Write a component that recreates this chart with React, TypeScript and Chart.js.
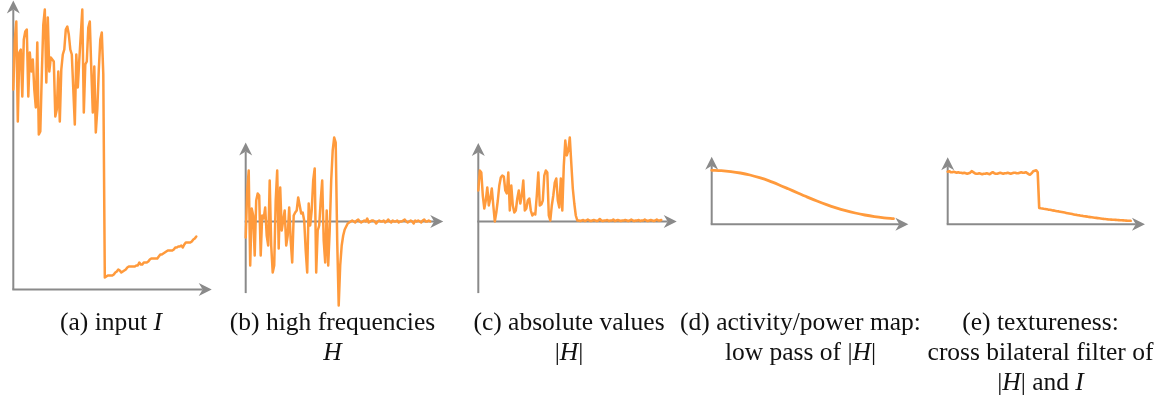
import React, { useEffect, useRef } from 'react';
import { Chart, registerables } from 'chart.js';

Chart.register(...registerables);

// (a) input I: textured region, then a smooth slowly rising ramp
const inputTextured = [
  200, 250, 268, 168, 237, 240, 193, 250, 258, 260,
  193, 237, 218, 230, 200, 182, 247, 155, 158, 215,
  265, 280, 207, 272, 218, 232, 230, 228, 173, 180,
  218, 168, 220, 235, 240, 260, 263, 255, 240, 235,
  200, 165, 235, 202, 230, 255, 280, 177, 225, 228,
  262, 268, 220, 177, 223, 157, 180, 220, 250, 257,
  215,
];
const inputSmooth = [
  12, 13, 14, 14, 14, 14, 15, 17, 18, 20,
  19, 17, 18, 19, 20, 22, 23, 23, 23, 23,
  23, 24, 24, 27, 25, 25, 27, 27, 27, 28,
  30, 31, 31, 31, 31, 31, 33, 35, 35, 36,
  37, 38, 39, 39, 39, 39, 40, 42, 42, 43,
  43, 44, 42, 45, 47, 47, 47, 47, 48, 50,
  51, 53,
];

// (b) high frequencies H
const highTextured = [
  -16, 31, 51, -44, 13, 6, -34, 21, 28, 26,
  -34, 6, 3, 14, -14, -24, 41, -24, -51, -44,
  21, 51, -27, 34, -9, 1, 11, -24, -14, 14,
  -19, -41, 6, 9, 11, 24, 16, 8, 9, 1,
  -29, -51, 18, -4, 11, 41, 53, -51, -9, -4,
  21, 41, -19, -41, 11, -44, -9, 41, 71, 84,
  79, -19, -84, -44, -24, -14, -8, -5, -2, -1,
  0,
];
const highSmooth = [
  1, 0, -1, 1, 2, 0, -1, 0, 1, 0,
  3, -1, 0, 1, 1, 0, -2, 0, 1, 0,
  0, 1, -1, 0, 2, 0, -1, 1, 0, 0,
  1, -1, 0, 0, 1, 2, 0, -1, 0, 1,
  0, -2, 1, 0, 1, 0, -1, 1, 2, 0,
  0, 1, 0,
];

// (c) absolute values |H|
const absTextured = [
  31, 51, 49, 26, 13, 21, 34, 16, 23, 33,
  16, 0, 9, 21, 36, 44, 46, 45, 31, 28,
  49, 11, 36, 16, 9, 11, 23, 31, 18, 26,
  41, 11, 13, 21, 23, 11, 6, 8, 7, 26,
  49, 16, 17, 21, 46, 51, 49, 6, 1, 16,
  26, 39, 43, 21, 14, 43, 11, 56, 81, 66,
  71, 84, 58, 33, 18, 6, 1,
];
const absSmooth = [
  1, 0.5, 1, 1.5, 0.5, 1, 2, 1, 0.5, 1,
  1.5, 1, 0.5, 1, 2.5, 1, 0.5, 1, 1, 1.5,
  0.5, 1, 1, 2, 0.5, 1, 1.5, 1, 0.5, 1,
  1, 1.5, 1, 0.5, 1, 2, 1, 0.5, 1, 1,
  1.5, 0.5, 1, 1, 2, 1, 0.5, 1, 1.5, 1,
  0.5, 1, 2, 1, 1, 1.5,
];

// (d) activity / power map: low pass of |H|
const activityMap = [
  54, 53.6, 52.7, 51.3, 49.3, 46.6, 43.4, 39.6, 35.5, 31.3,
  27.2, 23.3, 19.7, 16.5, 13.7, 11.3, 9.3, 7.7, 6.5, 5.6,
];

// (e) textureness: cross bilateral filter of |H| and I
const textureTextured = [
  52.5, 53, 52, 52, 52.5, 52, 51.5, 52, 51.5, 51.5,
  51, 51.5, 51, 50.5, 51, 51.5, 53, 52, 51, 50.5,
  50.5, 51, 50.5, 50, 50.5, 50.5, 51, 50.5, 50, 51,
  52, 51, 50.5, 50.5, 51, 51.5, 51, 50.5, 51, 51,
  51.5, 51, 50.5, 51, 51.5, 51.5, 51, 51, 51.5, 52,
  51.5, 51.5, 52, 51, 50, 49.5, 51, 53, 53.5, 54,
  52,
];
const textureSmooth = [
  16.2, 15.9, 15.7, 15.4, 15.2, 14.9, 14.6, 14.4, 14.1, 13.8,
  13.6, 13.3, 13.0, 12.8, 12.5, 12.2, 11.9, 11.6, 11.3, 11.0,
  10.7, 10.4, 10.1, 9.8, 9.5, 9.3, 9.0, 8.8, 8.5, 8.3,
  8.0, 7.8, 7.6, 7.3, 7.1, 6.9, 6.7, 6.5, 6.3, 6.1,
  5.9, 5.7, 5.5, 5.3, 5.2, 5.0, 4.8, 4.7, 4.6, 4.5,
  4.4, 4.3, 4.2, 4.1, 4.0, 3.9, 3.8, 3.7, 3.6, 3.5,
  3.5, 3.4,
];

const inputI = [...inputTextured, ...inputSmooth];
const highH = [...highTextured, ...highSmooth];
const absH = [...absTextured, ...absSmooth];
const textureness = [...textureTextured, ...textureSmooth];

const LINE_COLOR = '#ff9a3c';
const AXIS_COLOR = '#8a8a8a';
const HEAD_LEN = 13;
const HEAD_HALF = 6.5;

type Panel = {
  key: string;
  values: number[];
  box: { left: number; top: number; width: number; height: number };
  origin: { x: number; y: number };
  dx: number;
  dy: number;
  axisXEnd: number;
  axisYTop: number;
  axisYBottom: number;
  lineWidth: number;
  smooth: boolean;
};

const PANELS: Panel[] = [
  {
    key: 'a', values: inputI,
    box: { left: 0, top: 0, width: 225, height: 300 },
    origin: { x: 13.3, y: 289.5 }, dx: 1.5, dy: 1,
    axisXEnd: 132.3, axisYTop: 289, axisYBottom: 0,
    lineWidth: 2.5, smooth: false,
  },
  {
    key: 'b', values: highH,
    box: { left: 232, top: 126, width: 225, height: 190 },
    origin: { x: 245.7, y: 221.5 }, dx: 1.5, dy: 1,
    axisXEnd: 131.7, axisYTop: 79, axisYBottom: -71.6,
    lineWidth: 2.5, smooth: false,
  },
  {
    key: 'c', values: absH,
    box: { left: 465, top: 126, width: 225, height: 175 },
    origin: { x: 478.3, y: 221.5 }, dx: 1.5, dy: 1,
    axisXEnd: 132.3, axisYTop: 78.4, axisYBottom: -71.6,
    lineWidth: 2.5, smooth: false,
  },
  {
    key: 'd', values: activityMap,
    box: { left: 698, top: 148, width: 225, height: 88 },
    origin: { x: 711.7, y: 224.3 }, dx: 9.57, dy: 1,
    axisXEnd: 20.55, axisYTop: 67.6, axisYBottom: 0,
    lineWidth: 2.8, smooth: true,
  },
  {
    key: 'e', values: textureness,
    box: { left: 934, top: 148, width: 225, height: 88 },
    origin: { x: 947.7, y: 224.2 }, dx: 1.5, dy: 1,
    axisXEnd: 131.5, axisYTop: 66.9, axisYBottom: 0,
    lineWidth: 2.6, smooth: false,
  },
];

// Stealth-style arrow head pointing along (ux, uy) with its tip at (tx, ty)
function drawHead(ctx: CanvasRenderingContext2D, tx: number, ty: number, ux: number, uy: number) {
  const px = -uy;
  const py = ux;
  const bx = tx - ux * HEAD_LEN;
  const by = ty - uy * HEAD_LEN;
  const nx = tx - ux * HEAD_LEN * 0.7;
  const ny = ty - uy * HEAD_LEN * 0.7;
  ctx.beginPath();
  ctx.moveTo(tx, ty);
  ctx.lineTo(bx + px * HEAD_HALF, by + py * HEAD_HALF);
  ctx.lineTo(nx, ny);
  ctx.lineTo(bx - px * HEAD_HALF, by - py * HEAD_HALF);
  ctx.closePath();
  ctx.fill();
}

function PlotPanel({ p }: { p: Panel }) {
  const ref = useRef<HTMLCanvasElement>(null);

  useEffect(() => {
    const canvas = ref.current;
    if (!canvas) return;
    const { left, top, width, height } = p.box;
    const xMin = (left - p.origin.x) / p.dx;
    const xMax = (left + width - p.origin.x) / p.dx;
    const yMax = (p.origin.y - top) / p.dy;
    const yMin = (p.origin.y - top - height) / p.dy;

    const arrowAxes = {
      id: 'arrowAxes',
      beforeDatasetsDraw(chart: any) {
        const ctx: CanvasRenderingContext2D = chart.ctx;
        const xs = chart.scales.x;
        const ys = chart.scales.y;
        const x0 = xs.getPixelForValue(0);
        const y0 = ys.getPixelForValue(0);
        const xTip = xs.getPixelForValue(p.axisXEnd);
        const yTip = ys.getPixelForValue(p.axisYTop);
        const yBot = ys.getPixelForValue(p.axisYBottom);
        ctx.save();
        ctx.strokeStyle = AXIS_COLOR;
        ctx.fillStyle = AXIS_COLOR;
        ctx.lineWidth = 2;
        ctx.lineCap = 'butt';
        ctx.beginPath();
        ctx.moveTo(x0, yBot);
        ctx.lineTo(x0, yTip + HEAD_LEN * 0.7);
        ctx.stroke();
        ctx.beginPath();
        ctx.moveTo(x0 - 1, y0);
        ctx.lineTo(xTip - HEAD_LEN * 0.7, y0);
        ctx.stroke();
        drawHead(ctx, x0, yTip, 0, -1);
        drawHead(ctx, xTip, y0, 1, 0);
        ctx.restore();
      },
    };

    const chart = new Chart(canvas, {
      type: 'line',
      data: {
        datasets: [
          {
            data: p.values.map((v, i) => ({ x: i, y: v })),
            borderColor: LINE_COLOR,
            borderWidth: p.lineWidth,
            pointRadius: 0,
            fill: false,
            tension: p.smooth ? 0.4 : 0,
            cubicInterpolationMode: p.smooth ? 'monotone' : 'default',
            borderJoinStyle: 'round',
            borderCapStyle: 'round',
            clip: false,
          } as any,
        ],
      },
      options: {
        responsive: false,
        maintainAspectRatio: false,
        animation: false,
        devicePixelRatio: 1,
        events: [],
        layout: { padding: 0 },
        scales: {
          x: { type: 'linear', display: false, min: xMin, max: xMax },
          y: { type: 'linear', display: false, min: yMin, max: yMax },
        },
        plugins: { legend: { display: false }, tooltip: { enabled: false } },
      },
      plugins: [arrowAxes],
    });
    return () => chart.destroy();
  }, [p]);

  return (
    <canvas
      ref={ref}
      width={p.box.width}
      height={p.box.height}
      style={{
        position: 'absolute',
        left: p.box.left,
        top: p.box.top,
        width: p.box.width,
        height: p.box.height,
      }}
    />
  );
}

const captionStyle: React.CSSProperties = {
  position: 'absolute',
  top: 307,
  width: 300,
  textAlign: 'center',
  fontFamily: '"Liberation Serif", "Times New Roman", serif',
  fontSize: 25.5,
  lineHeight: '30px',
  color: '#111',
  whiteSpace: 'nowrap',
};

const CAPTION_CENTERS = [111, 332.5, 569, 800.5, 1040.5];

export default function App() {
  const captions: React.ReactNode[] = [
    <>(a) input <i>I</i></>,
    <>(b) high frequencies<br /><i>H</i></>,
    <>(c) absolute values<br />|<i>H</i>|</>,
    <>(d) activity/power map:<br />low pass of |<i>H</i>|</>,
    <>(e) textureness:<br />cross bilateral filter of<br />|<i>H</i>| and <i>I</i></>,
  ];
  return (
    <div
      style={{
        position: 'absolute',
        left: 0,
        top: 0,
        width: 1163,
        height: 406,
        background: '#fff',
        overflow: 'hidden',
      }}
    >
      {PANELS.map((p) => (
        <PlotPanel key={p.key} p={p} />
      ))}
      {captions.map((c, i) => (
        <div key={i} style={{ ...captionStyle, left: CAPTION_CENTERS[i] - 150 }}>
          {c}
        </div>
      ))}
    </div>
  );
}
